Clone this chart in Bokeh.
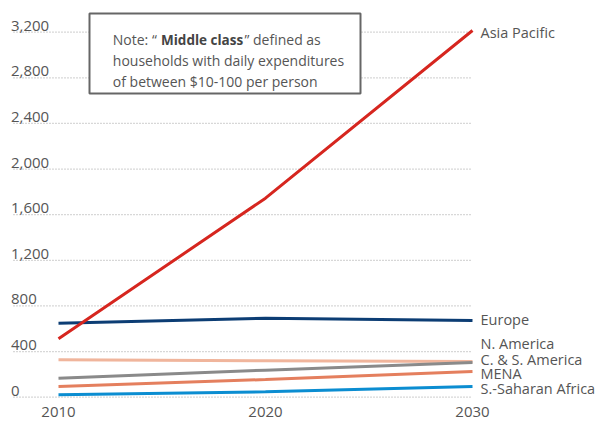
from bokeh.plotting import figure
from bokeh.models import Range1d, Label, BoxAnnotation, ColumnDataSource
from bokeh.core.properties import value
from bokeh.embed import file_html
from bokeh.resources import INLINE

# ---------------- data ----------------
years = [2010, 2020, 2030]
asia_pacific = [512, 1745, 3215]
europe = [649, 693, 672]
n_america = [328, 319, 312]
cs_america = [167, 237, 305]
mena = [94, 155, 225]
ss_africa = [21, 47, 94]

series_names = ["N. America", "C. & S. America", "MENA", "S.-Saharan Africa", "Europe", "Asia Pacific"]
series_values = [n_america, cs_america, mena, ss_africa, europe, asia_pacific]
series_colors = ["#f0b59c", "#8a8a8a", "#e47f5e", "#0b8dd1", "#0c3d74", "#d6261f"]
label_dy = [-18, -3, 2, 2, -1, 2]  # pixel nudges of end labels

y_ticks = [0, 400, 800, 1200, 1600, 2000, 2400, 2800, 3200]
y_tick_labels = ["0", "400", "800", "1,200", "1,600", "2,000", "2,400", "2,800", "3,200"]
x_tick_labels = ["2010", "2020", "2030"]

# ---------------- layout ----------------
W, H = 604, 421
X0_PX, X1_PX = 58.0, 472.0      # px of 2010 / 2030
Y0_PX, Y1_PX = 396.7, 31.7      # px of 0 / 3200
xs = (2030 - 2010) / (X1_PX - X0_PX)
ys = 3200 / (Y0_PX - Y1_PX)
x_start = 2010 - X0_PX * xs
x_end = x_start + W * xs
y_start = -(H - Y0_PX) * ys
y_end = 3200 + Y1_PX * ys


def dx(px):
    return 2010 + (px - X0_PX) * xs


def dy(py):
    return (Y0_PX - py) * ys


FONT = "Open Sans"
TXT = "#555555"

p = figure(width=W, height=H, output_backend="svg", toolbar_location=None,
           x_range=Range1d(x_start, x_end), y_range=Range1d(y_start, y_end),
           x_axis_type=None, y_axis_type=None, min_border=0)
p.outline_line_color = None
p.xgrid.visible = False
p.ygrid.visible = False
p.background_fill_color = "white"

# dotted grid
n = len(y_ticks)
p.segment(x0=[dx(13)] * n, y0=y_ticks, x1=[years[-1]] * n, y1=y_ticks,
          line_color="#b0b0b0", line_width=1.2, line_dash="1 2")

# y tick labels (above grid lines)
p.text(x=[dx(10.5)] * n, y=y_ticks, text=y_tick_labels, text_font=value(FONT),
       text_font_size="15px", text_color=TXT, text_baseline="alphabetic",
       text_align="left", y_offset=-6.5)

# x tick labels
p.text(x=years, y=[0] * 3, text=x_tick_labels, text_font=value(FONT),
       text_font_size="15px", text_color=TXT, text_baseline="middle",
       text_align="center", y_offset=14.5)

# series lines
for vals, col in zip(series_values, series_colors):
    p.line(years, vals, line_color=col, line_width=3)

# end labels
src = ColumnDataSource(dict(x=[years[-1]] * len(series_names),
                            y=[v[-1] for v in series_values],
                            t=series_names, dy=label_dy))
p.text(x="x", y="y", text="t", source=src, x_offset=8, y_offset="dy",
       text_font=value(FONT), text_font_size="14.5px", text_color=TXT,
       text_baseline="middle", text_align="left")

# note box
box = BoxAnnotation(left=dx(89), right=dx(360), top=dy(13), bottom=dy(93),
                    fill_color="white", fill_alpha=1.0,
                    line_color="#666666", line_alpha=1.0, line_width=2)
p.add_layout(box)

note_parts = [
    ("Note: \u201c", 112.3, 39.3, "normal", "14px"),
    ("Middle class", 160.5, 39.3, "bold", "13.5px"),
    ("\u201d defined as", 244.0, 39.3, "normal", "14px"),
    ("households with daily expenditures", 112.3, 60.0, "normal", "14px"),
    ("of between $10-100 per person", 112.3, 80.7, "normal", "14px"),
]
for t, px, py, st, fs in note_parts:
    p.add_layout(Label(x=dx(px), y=dy(py), text=t, text_font=FONT,
                       text_font_size=fs, text_font_style=st,
                       text_color="#444444" if st == "bold" else TXT,
                       text_baseline="alphabetic", text_align="left"))

open("out.html", "w").write(file_html(p, INLINE))
